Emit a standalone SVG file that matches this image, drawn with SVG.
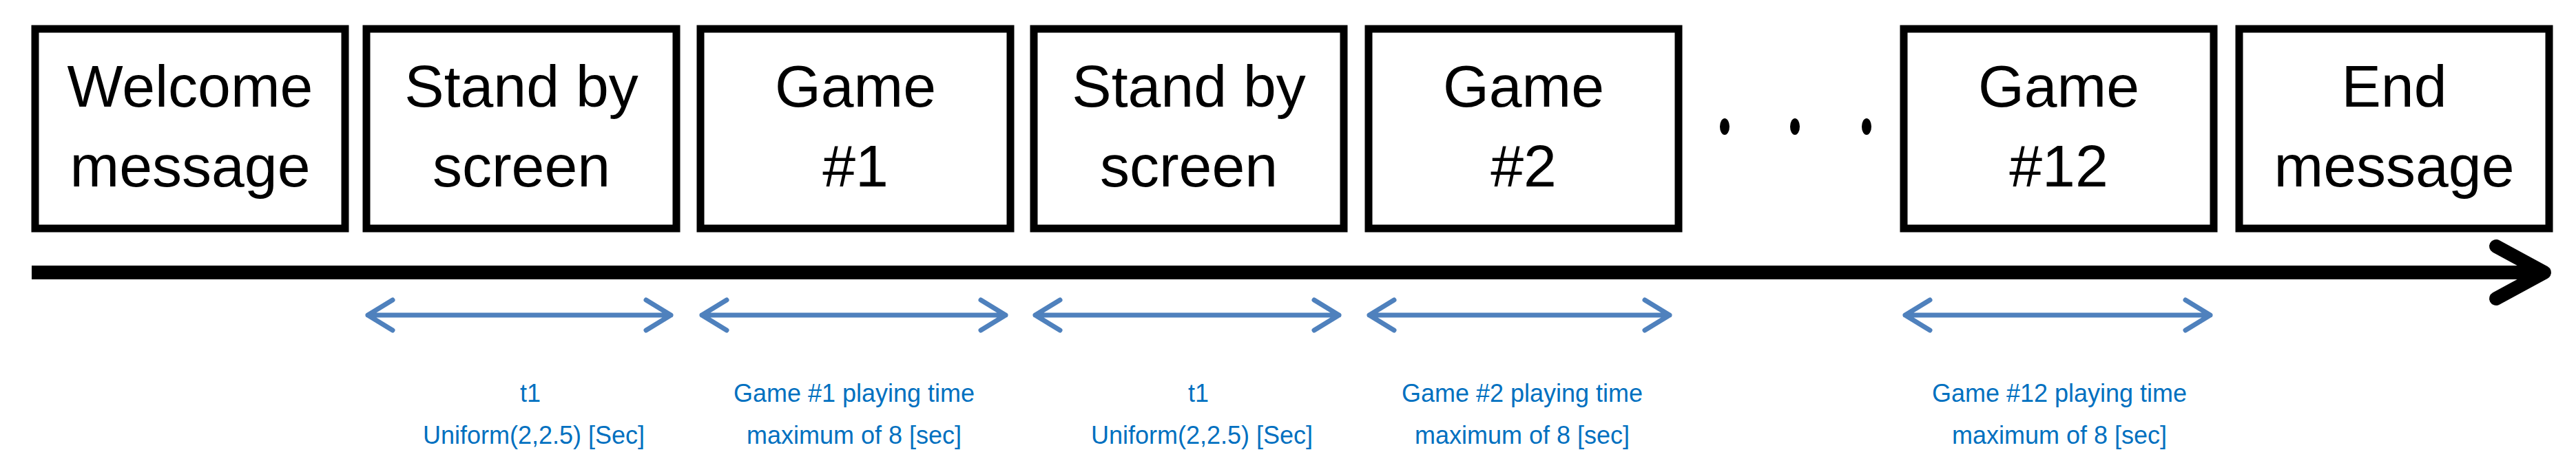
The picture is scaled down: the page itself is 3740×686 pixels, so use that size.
<svg xmlns="http://www.w3.org/2000/svg" width="3740" height="686" viewBox="0 0 3740 686">
<style>
.box{fill:#fff;stroke:#000;stroke-width:11}
.t{font-family:"Liberation Sans",Arial,sans-serif;font-size:86px;text-anchor:middle;fill:#000}
.b{font-family:"Liberation Sans",Arial,sans-serif;font-size:36px;text-anchor:middle;fill:#0070C0}
.ba{stroke:#4F81BD;stroke-width:7;fill:none;stroke-linecap:round;stroke-linejoin:round}
</style>
<g id="n1"><rect class="box" x="51" y="42" width="450" height="290"/><text class="t" x="276" y="155">Welcome</text><text class="t" x="276" y="271">message</text></g>
<g id="n2"><rect class="box" x="532" y="42" width="450" height="290"/><text class="t" x="757" y="155">Stand by</text><text class="t" x="757" y="271">screen</text></g>
<g id="n3"><rect class="box" x="1017" y="42" width="450" height="290"/><text class="t" x="1242" y="155">Game</text><text class="t" x="1242" y="271">#1</text></g>
<g id="n4"><rect class="box" x="1501" y="42" width="450" height="290"/><text class="t" x="1726" y="155">Stand by</text><text class="t" x="1726" y="271">screen</text></g>
<g id="n5"><rect class="box" x="1987" y="42" width="450" height="290"/><text class="t" x="2212" y="155">Game</text><text class="t" x="2212" y="271">#2</text></g>
<g id="dots" fill="#000"><ellipse cx="2504" cy="184" rx="7" ry="12"/><ellipse cx="2606" cy="184" rx="7" ry="12"/><ellipse cx="2710" cy="184" rx="7" ry="12"/></g>
<g id="n6"><rect class="box" x="2764" y="42" width="450" height="290"/><text class="t" x="2989" y="155">Game</text><text class="t" x="2989" y="271">#12</text></g>
<g id="n7"><rect class="box" x="3251" y="42" width="450" height="290"/><text class="t" x="3476" y="155">End</text><text class="t" x="3476" y="271">message</text></g>
<g id="connectors">
<line x1="46" y1="396" x2="3690" y2="396" stroke="#000" stroke-width="20"/>
<polyline points="3624,358 3694,396 3624,434" fill="none" stroke="#000" stroke-width="20" stroke-linecap="round" stroke-linejoin="round"/>
<g class="ba">
<path d="M534,458H974M570,436L534,458L570,480M938,436L974,458L938,480"/>
<path d="M1019,458H1460M1055,436L1019,458L1055,480M1424,436L1460,458L1424,480"/>
<path d="M1503,458H1944M1539,436L1503,458L1539,480M1908,436L1944,458L1908,480"/>
<path d="M1988,458H2424M2024,436L1988,458L2024,480M2388,436L2424,458L2388,480"/>
<path d="M2766,458H3209M2802,436L2766,458L2802,480M3173,436L3209,458L3173,480"/>
</g>
</g>
<g id="labels">
<text class="b" x="770" y="584">t1</text><text class="b" x="775" y="645">Uniform(2,2.5) [Sec]</text>
<text class="b" x="1240" y="584">Game #1 playing time</text><text class="b" x="1240" y="645">maximum of 8 [sec]</text>
<text class="b" x="1740" y="584">t1</text><text class="b" x="1745" y="645">Uniform(2,2.5) [Sec]</text>
<text class="b" x="2210" y="584">Game #2 playing time</text><text class="b" x="2210" y="645">maximum of 8 [sec]</text>
<text class="b" x="2990" y="584">Game #12 playing time</text><text class="b" x="2990" y="645">maximum of 8 [sec]</text>
</g>
</svg>
